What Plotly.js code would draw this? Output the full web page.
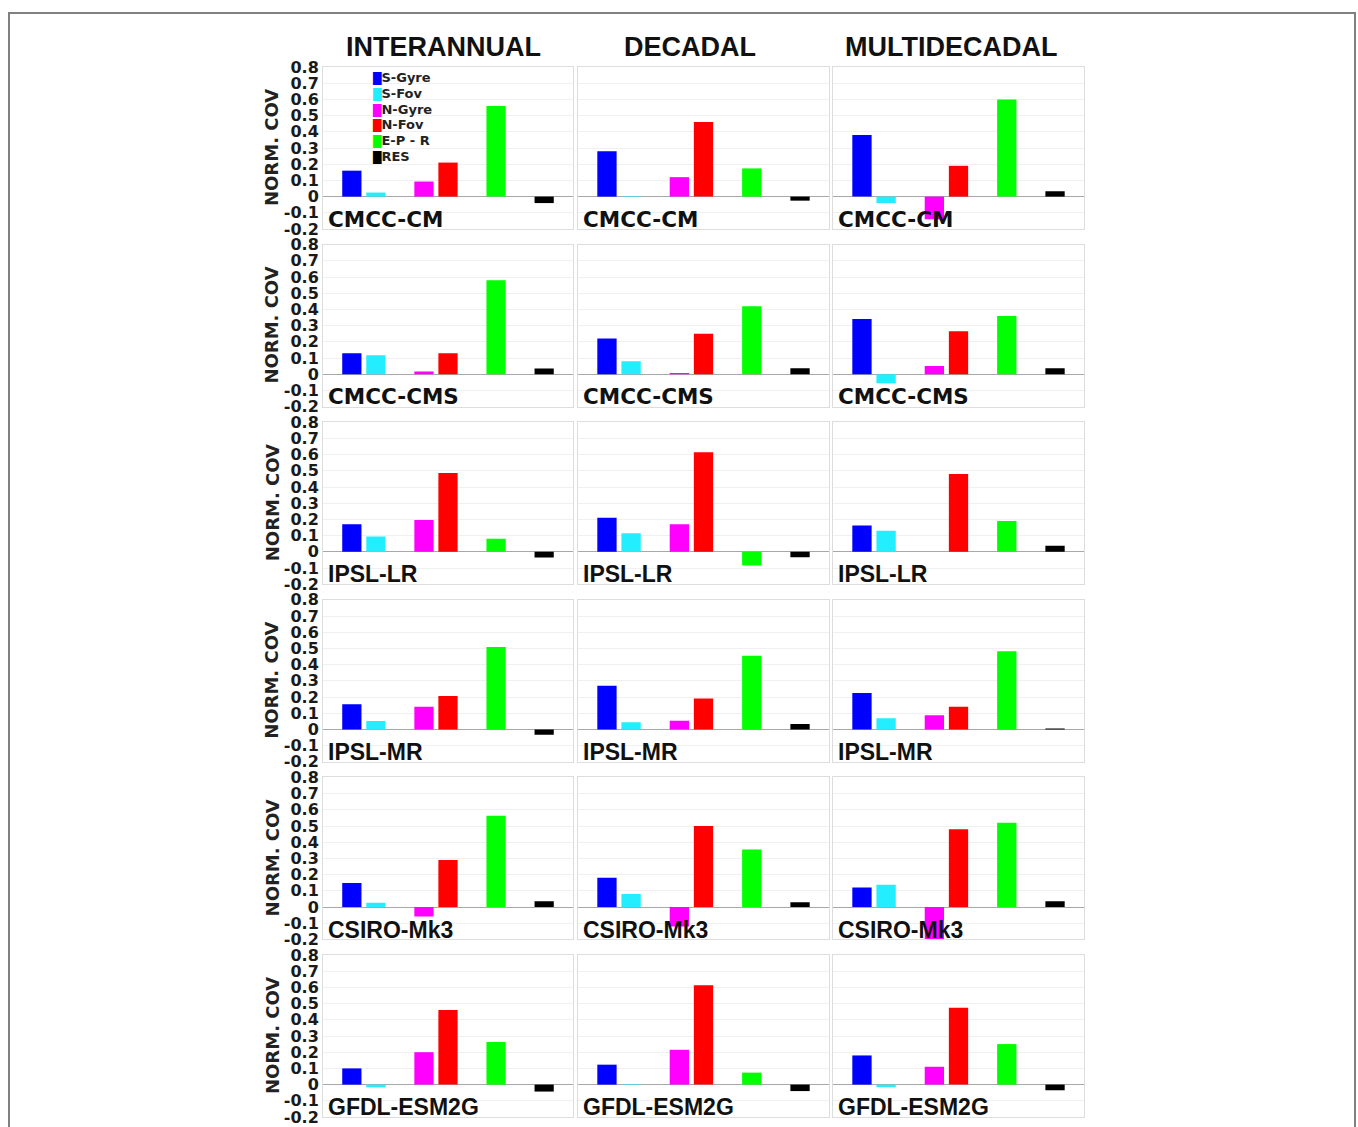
<!DOCTYPE html>
<html>
<head>
<meta charset="utf-8">
<script src="https://cdn.plot.ly/plotly-3.0.1.min.js"></script>
<style>
  html, body { margin: 0; padding: 0; background: #ffffff; overflow: hidden; }
  #frame { position: absolute; left: 8px; top: 12px; width: 1348px; height: 1200px; border: 2px solid #808080; box-sizing: border-box; }
  #chart { position: absolute; left: 0; top: 0; width: 1358px; height: 1127px; }
</style>
</head>
<body>
<div id="frame"></div>
<div id="chart"></div>
<script>
// ---------- DATA ----------
const components = ['S-Gyre', 'S-Fov', 'N-Gyre', 'N-Fov', 'E-P - R', 'RES'];
const componentColors = ['#0000ff', '#22eeff', '#ff00ff', '#ff0000', '#00ff00', '#000000'];
const models = ['CMCC-CM', 'CMCC-CMS', 'IPSL-LR', 'IPSL-MR', 'CSIRO-Mk3', 'GFDL-ESM2G'];
const periods = ['INTERANNUAL', 'DECADAL', 'MULTIDECADAL'];

// values per model (rows), in component order
const interannual = [
  [0.16, 0.025, 0.093, 0.21, 0.56, -0.04],
  [0.13, 0.117, 0.016, 0.13, 0.58, 0.035],
  [0.17, 0.095, 0.197, 0.486, 0.08, -0.035],
  [0.156, 0.052, 0.14, 0.206, 0.508, -0.033],
  [0.148, 0.027, -0.058, 0.29, 0.564, 0.035],
  [0.10, -0.017, 0.20, 0.46, 0.263, -0.043]
];
const decadal = [
  [0.28, 0.003, 0.12, 0.46, 0.174, -0.025],
  [0.22, 0.08, 0.008, 0.25, 0.42, 0.037],
  [0.21, 0.115, 0.17, 0.615, -0.085, -0.033],
  [0.27, 0.044, 0.054, 0.19, 0.454, 0.033],
  [0.18, 0.08, -0.12, 0.50, 0.355, 0.03],
  [0.123, 0.003, 0.215, 0.613, 0.074, -0.04]
];
const multidecadal = [
  [0.38, -0.04, -0.14, 0.19, 0.60, 0.033],
  [0.34, -0.056, 0.05, 0.265, 0.36, 0.037],
  [0.162, 0.13, 0, 0.48, 0.19, 0.037],
  [0.225, 0.069, 0.0875, 0.14, 0.483, 0.006],
  [0.12, 0.137, -0.207, 0.48, 0.52, 0.035],
  [0.18, -0.016, 0.11, 0.475, 0.25, -0.035]
];
const yTickVals = [0.8, 0.7, 0.6, 0.5, 0.4, 0.3, 0.2, 0.1, 0, -0.1, -0.2];
const yTickText = ['0.8', '0.7', '0.6', '0.5', '0.4', '0.3', '0.2', '0.1', '0', '-0.1', '-0.2'];
const yTitle = 'NORM. COV';

// ---------- LAYOUT ----------
const W = 1358, H = 1127;
const periodData = [interannual, decadal, multidecadal];
const slotPositions = [1, 2, 4, 5, 7, 9];   // bar slots along each panel
const colPx = [[323, 573], [578, 829], [833, 1084]];
const titleCenterPx = [443, 690, 951];
const rowTop0 = 67, rowPitch = 177.6, rowHeight = 162;

const traces = [];
const layout = {
  width: W, height: H,
  margin: {l: 0, r: 0, t: 0, b: 0},
  paper_bgcolor: 'rgba(0,0,0,0)',
  plot_bgcolor: '#ffffff',
  showlegend: false,
  barmode: 'overlay',
  annotations: [],
  font: {family: 'DejaVu Sans', color: '#111'}
};

for (let r = 0; r < models.length; r++) {
  const topPx = rowTop0 + rowPitch * r;
  const botPx = topPx + rowHeight;
  for (let c = 0; c < periods.length; c++) {
    const k = r * 3 + c + 1;
    const xa = 'xaxis' + (k === 1 ? '' : k);
    const ya = 'yaxis' + (k === 1 ? '' : k);
    const xr = 'x' + (k === 1 ? '' : k);
    const yr = 'y' + (k === 1 ? '' : k);
    traces.push({
      type: 'bar',
      x: slotPositions,
      y: periodData[c][r],
      text: components,
      hoverinfo: 'text+y',
      textposition: 'none',
      width: 0.8,
      marker: {color: componentColors, line: {width: 0}},
      xaxis: xr, yaxis: yr
    });
    layout[xa] = {
      domain: [colPx[c][0] / W, colPx[c][1] / W],
      range: [-0.2, 10.2],
      showticklabels: false, ticks: '', showgrid: false, zeroline: false,
      showline: true, mirror: true, linecolor: '#dddddd', linewidth: 1,
      anchor: yr, fixedrange: true
    };
    layout[ya] = {
      domain: [1 - botPx / H, 1 - topPx / H],
      range: [-0.2, 0.8],
      tickmode: 'array', tickvals: yTickVals, ticktext: yTickText,
      showticklabels: c === 0,
      tickfont: {family: 'DejaVu Sans', size: 16, weight: 'bold', color: '#1a1a1a'},
      ticks: '',
      showgrid: true, gridcolor: '#f0f0f0', gridwidth: 1,
      zeroline: true, zerolinecolor: '#a8a8a8', zerolinewidth: 1,
      showline: true, mirror: true, linecolor: '#dddddd', linewidth: 1,
      anchor: xr, fixedrange: true
    };
    // model label inside panel
    const narrow = r >= 2;
    layout.annotations.push({
      xref: xr + ' domain', yref: yr,
      x: 0.012, y: -0.14, xanchor: 'left', yanchor: 'middle',
      text: models[r], showarrow: false,
      font: narrow
        ? {family: 'Liberation Sans', size: 23, weight: 'bold', color: '#111'}
        : {family: 'DejaVu Sans', size: 21.5, weight: 'bold', color: '#111'}
    });
  }
  // y-axis title for the row
  layout.annotations.push({
    xref: 'paper', yref: 'paper',
    x: 272 / W, y: 1 - (topPx + rowHeight / 2) / H,
    xanchor: 'center', yanchor: 'middle', textangle: -90,
    text: yTitle, showarrow: false,
    font: {family: 'DejaVu Sans', size: 18, weight: 'bold', color: '#222'}
  });
}

// column titles
for (let c = 0; c < periods.length; c++) {
  layout.annotations.push({
    xref: 'paper', yref: 'paper',
    x: titleCenterPx[c] / W, y: 1 - 46.7 / H,
    xanchor: 'center', yanchor: 'middle',
    text: periods[c], showarrow: false,
    font: {family: 'Liberation Sans', size: 27, weight: 'bold', color: '#111'}
  });
}

// legend (inside first panel)
for (let i = 0; i < components.length; i++) {
  layout.annotations.push({
    xref: 'paper', yref: 'paper',
    x: 370 / W, y: 1 - (77.3 + 15.9 * i) / H,
    xanchor: 'left', yanchor: 'middle',
    text: '<span style="color:' + componentColors[i] + ';font-size:11px">█</span>' + components[i],
    showarrow: false,
    font: {family: 'DejaVu Sans', size: 13, weight: 'bold', color: '#222'}
  });
}

Plotly.newPlot('chart', traces, layout, {displayModeBar: false, staticPlot: true});
</script>
</body>
</html>
